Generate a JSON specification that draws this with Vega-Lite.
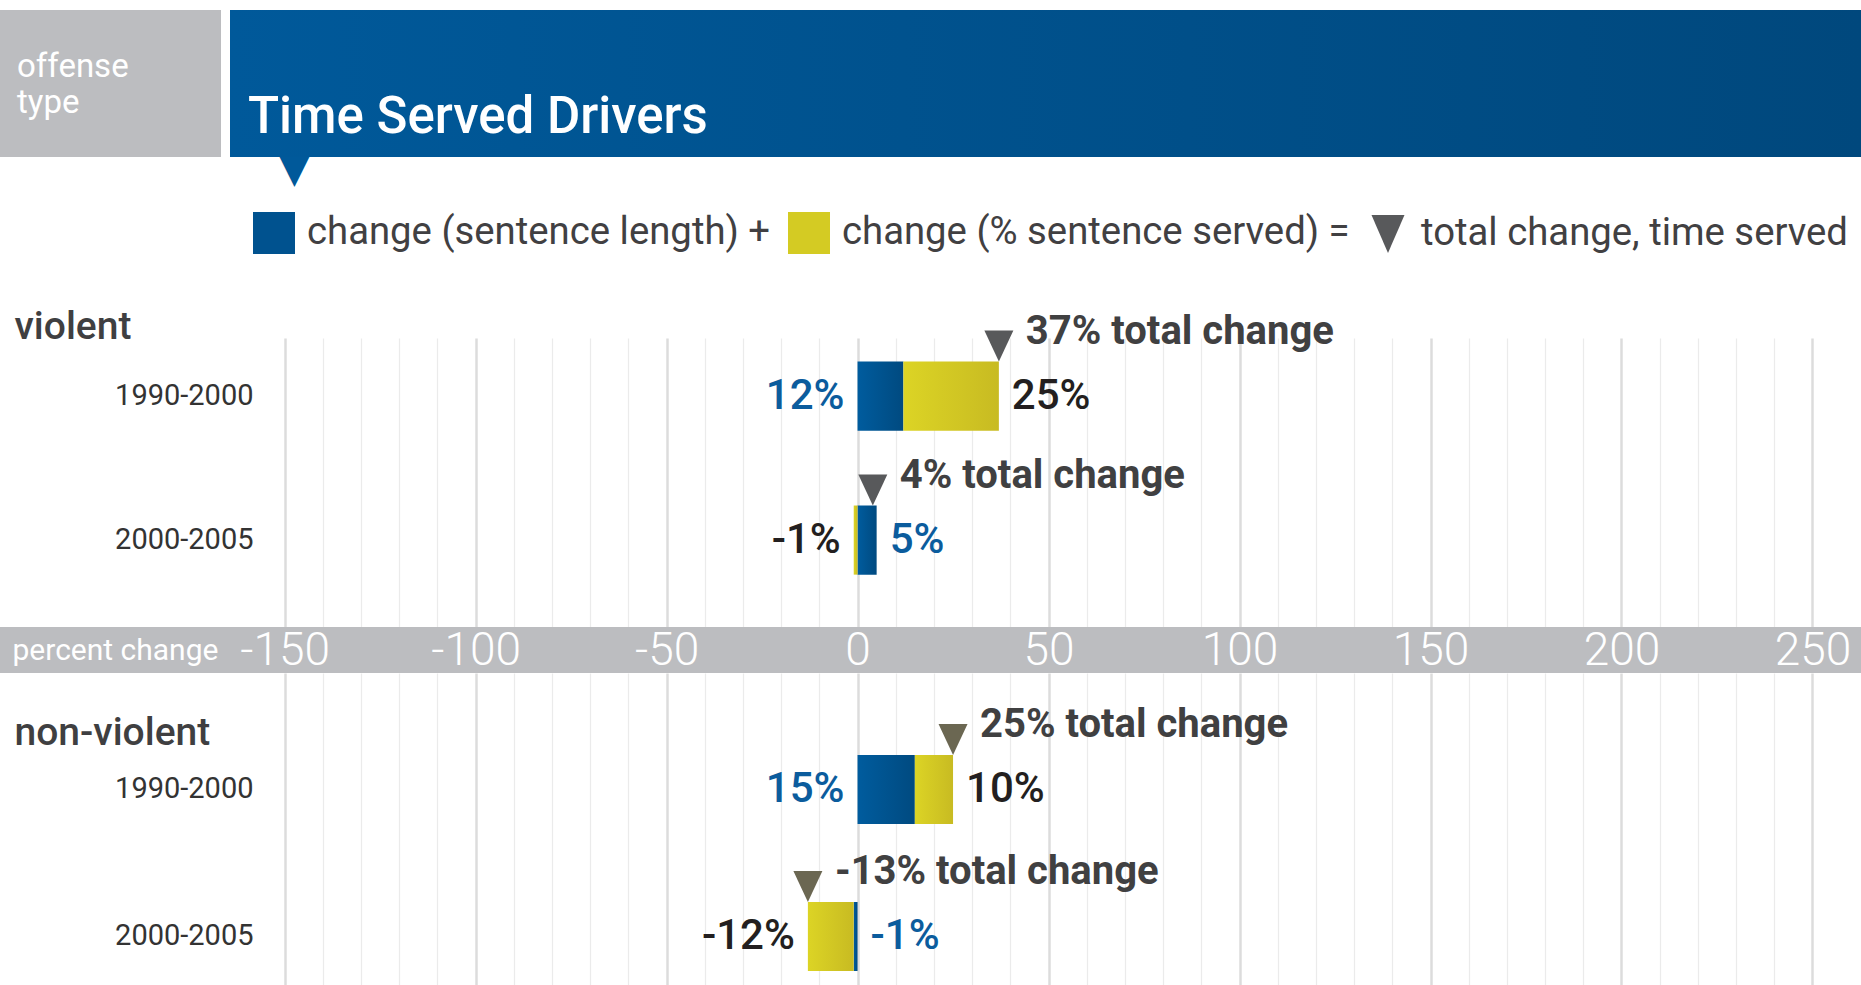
{
  "$schema": "https://vega.github.io/schema/vega-lite/v6.json",
  "padding": {"top": 10, "left": 0, "right": 0, "bottom": 0},
  "background": "#ffffff",
  "bounds": "full",
  "spacing": 22,
  "config": {
    "view": {"stroke": null},
    "font": "Roboto, Liberation Sans, sans-serif"
  },
  "datasets": {
    "changes": [
      {"offense": "violent", "period": "1990-2000", "comp": "length", "value": 12},
      {"offense": "violent", "period": "1990-2000", "comp": "served", "value": 25},
      {"offense": "violent", "period": "2000-2005", "comp": "length", "value": 5},
      {"offense": "violent", "period": "2000-2005", "comp": "served", "value": -1},
      {"offense": "non-violent", "period": "1990-2000", "comp": "length", "value": 15},
      {"offense": "non-violent", "period": "1990-2000", "comp": "served", "value": 10},
      {"offense": "non-violent", "period": "2000-2005", "comp": "length", "value": -1},
      {"offense": "non-violent", "period": "2000-2005", "comp": "served", "value": -12}
    ],
    "legend": [{"key": "length"}, {"key": "served"}, {"key": "total"}]
  },
  "resolve": {
    "scale": {"color": "independent", "shape": "independent"},
    "legend": {"color": "independent", "shape": "independent"}
  },
  "vconcat": [
    {
      "spacing": 9,
      "bounds": "flush",
      "title": {"text": "▼", "orient": "bottom", "anchor": "start", "frame": "group", "dx": 279, "offset": -7, "baseline": "top", "font": "DejaVu Sans", "fontSize": 40, "fontWeight": "normal", "color": "#00599a"},
      "hconcat": [
        {
          "width": 221, "height": 147,
          "view": {"fill": "#bcbdc0", "stroke": null},
          "data": {"values": []},
          "mark": "point",
          "title": {"text": ["offense", "type"], "orient": "bottom", "anchor": "start", "frame": "group", "dx": 17, "offset": -80, "baseline": "alphabetic", "fontSize": 33, "lineHeight": 36, "fontWeight": "normal", "color": "#ffffff"}
        },
        {
          "width": 1631, "height": 147,
          "view": {"fill": {"gradient": "linear", "x1": 0, "y1": 0, "x2": 1, "y2": 0, "stops": [{"offset": 0, "color": "#00599a"}, {"offset": 1, "color": "#00487d"}]}, "stroke": null},
          "data": {"values": []},
          "mark": "point",
          "title": {"text": "Time Served Drivers", "orient": "bottom", "anchor": "start", "frame": "group", "dx": 18, "offset": -24, "baseline": "alphabetic", "fontSize": 51, "fontWeight": 500, "color": "#ffffff"}
        }
      ]
    },
    {
      "spacing": 0,
      "bounds": "flush",
      "resolve": {
        "scale": {"color": "independent", "shape": "independent"},
        "legend": {"color": "independent", "shape": "independent"}
      },
      "vconcat": [
        {
          "width": 1861, "height": 289,
          "layer": [
            {
              "data": {"name": "changes"},
              "transform": [
                {"filter": "datum.offense == 'violent'"},
                {"stack": "value", "groupby": ["period"], "sort": [{"field": "comp", "order": "ascending"}], "as": ["s0", "s1"]},
                {"calculate": "min(datum.s0, datum.s1)", "as": "lo"},
                {"calculate": "max(datum.s0, datum.s1)", "as": "hi"},
                {"joinaggregate": [{"op": "min", "field": "lo", "as": "rmin"}, {"op": "max", "field": "hi", "as": "rmax"}, {"op": "sum", "field": "value", "as": "total"}], "groupby": ["period"]},
                {"calculate": "datum.value + '%'", "as": "lab"},
                {"calculate": "datum.total + '% total change'", "as": "tlab"}
              ],
              "encoding": {
                "y": {"field": "period", "type": "nominal",
                  "scale": {"paddingInner": 0.52, "paddingOuter": 0.2635, "align": 0.31},
                  "axis": {"orient": "left", "offset": -253, "labelAlign": "right", "labelPadding": 0, "ticks": false, "tickSize": 0, "domain": false, "grid": false, "labelFontSize": 29, "labelColor": "#333333", "labelBaseline": "middle", "labelLimit": 300,
                    "title": "violent", "titleAngle": 0, "titleAlign": "left", "titleBaseline": "alphabetic", "titleX": -239, "titleY": 0, "titleFontSize": 39, "titleFontWeight": 500, "titleColor": "#3f3f41"}}
              },
              "layer": [
                {
                  "transform": [{"filter": "datum.comp == 'length'"}],
                  "mark": {"type": "bar", "color": {"gradient": "linear", "x1": 0, "y1": 0, "x2": 1, "y2": 0, "stops": [{"offset": 0, "color": "#005c9e"}, {"offset": 1, "color": "#004a80"}]}},
                  "encoding": {
                    "x": {"field": "lo", "type": "quantitative", "title": null, "scale": {"domain": [-224.5, 262.7], "nice": false, "zero": false},
                      "axis": {"orient": "bottom", "values": [-150,-145,-140,-135,-130,-125,-120,-115,-110,-105,-100,-95,-90,-85,-80,-75,-70,-65,-60,-55,-50,-45,-40,-35,-30,-25,-20,-15,-10,-5,0,5,10,15,20,25,30,35,40,45,50,55,60,65,70,75,80,85,90,95,100,105,110,115,120,125,130,135,140,145,150,155,160,165,170,175,180,185,190,195,200,205,210,215,220,225,230,235,240,245,250],
                        "grid": true, "labels": false, "ticks": false, "domain": false, "title": null,
                        "gridColor": {"condition": {"test": "datum.value % 50 === 0", "value": "#dcdcdc"}, "value": "#ebebeb"},
                        "gridWidth": {"condition": {"test": "datum.value % 50 === 0", "value": 2.5}, "value": 1.2}}},
                    "x2": {"field": "hi"}
                  }
                },
                {
                  "transform": [{"filter": "datum.comp == 'served'"}],
                  "mark": {"type": "bar", "color": {"gradient": "linear", "x1": 0, "y1": 0, "x2": 1, "y2": 0, "stops": [{"offset": 0, "color": "#dcd425"}, {"offset": 1, "color": "#c8bb22"}]}},
                  "encoding": {
                    "x": {"field": "lo", "type": "quantitative", "title": null, "scale": {"domain": [-224.5, 262.7], "nice": false, "zero": false}},
                    "x2": {"field": "hi"}
                  }
                },
                {
                  "transform": [{"filter": "datum.comp == 'length'"}],
                  "mark": {"type": "point", "shape": "M-0.725,-3.275L0.725,-3.275L0,-1.725Z", "size": 1600, "filled": true, "opacity": 1, "strokeWidth": 0, "color": "#58595b"},
                  "encoding": {
                    "x": {"field": "total", "type": "quantitative", "title": null, "scale": {"domain": [-224.5, 262.7], "nice": false, "zero": false}}
                  }
                },
                {
                  "transform": [{"filter": "datum.comp == 'length'"}],
                  "mark": {"type": "text", "align": "left", "baseline": "middle", "dx": 27, "dy": -64, "fontSize": 40, "fontWeight": "bold", "color": "#404041"},
                  "encoding": {
                    "x": {"field": "total", "type": "quantitative", "title": null, "scale": {"domain": [-224.5, 262.7], "nice": false, "zero": false}},
                    "text": {"field": "tlab"}
                  }
                },
                {
                  "transform": [{"filter": "datum.lo == datum.rmin"}],
                  "mark": {"type": "text", "align": "right", "baseline": "middle", "dx": -13, "fontSize": 42, "fontWeight": 500},
                  "encoding": {
                    "x": {"field": "rmin", "type": "quantitative", "title": null, "scale": {"domain": [-224.5, 262.7], "nice": false, "zero": false}},
                    "text": {"field": "lab"},
                    "color": {"condition": {"test": "datum.comp == 'length'", "value": "#0b5c9d"}, "value": "#231f20"}
                  }
                },
                {
                  "transform": [{"filter": "datum.hi == datum.rmax"}],
                  "mark": {"type": "text", "align": "left", "baseline": "middle", "dx": 13, "fontSize": 42, "fontWeight": 500},
                  "encoding": {
                    "x": {"field": "rmax", "type": "quantitative", "title": null, "scale": {"domain": [-224.5, 262.7], "nice": false, "zero": false}},
                    "text": {"field": "lab"},
                    "color": {"condition": {"test": "datum.comp == 'length'", "value": "#0b5c9d"}, "value": "#231f20"}
                  }
                }
              ]
            },
            {
              "data": {"name": "legend"},
              "mark": {"type": "point", "filled": true, "opacity": 0},
              "encoding": {
                "color": {
                  "field": "key", "type": "nominal",
                  "scale": {"domain": ["length", "served", "total"], "range": ["#00528f", "#d4cb23", "#58595b"]},
                  "legend": {"orient": "none", "legendX": 253, "legendY": -126, "direction": "horizontal", "title": null, "symbolSize": 1764, "symbolStrokeWidth": 0, "symbolOpacity": 1, "labelFontSize": 38.3, "labelColor": "#414042", "labelOffset": 12, "columnPadding": 17, "labelLimit": 1000, "padding": 0,
                    "labelExpr": "datum.value == 'length' ? 'change (sentence length) +' : datum.value == 'served' ? 'change (% sentence served) =' : 'total change, time served'"}
                },
                "shape": {
                  "field": "key", "type": "nominal",
                  "scale": {"domain": ["length", "served", "total"], "range": ["square", "square", "M-0.786,-0.905L0.786,-0.905L0,0.905Z"]},
                  "legend": {"orient": "none", "legendX": 253, "legendY": -126, "direction": "horizontal", "title": null, "symbolSize": 1764, "symbolStrokeWidth": 0, "symbolOpacity": 1, "labelFontSize": 38.3, "labelColor": "#414042", "labelOffset": 12, "columnPadding": 17, "labelLimit": 1000, "padding": 0,
                    "labelExpr": "datum.value == 'length' ? 'change (sentence length) +' : datum.value == 'served' ? 'change (% sentence served) =' : 'total change, time served'"}
                }
              }
            }
          ]
        },
        {
          "width": 1861, "height": 46,
          "view": {"fill": "#bcbdc0", "stroke": null},
          "data": {"values": []},
          "mark": {"type": "point", "opacity": 0},
          "encoding": {
            "x": {"datum": 0, "type": "quantitative", "scale": {"domain": [-224.5, 262.7], "nice": false, "zero": false},
              "axis": {"orient": "bottom", "offset": -23, "values": [-150, -100, -50, 0, 50, 100, 150, 200, 250], "labelExpr": "datum.value + ''", "labelFontSize": 46, "labelFontWeight": 300, "labelColor": "#ffffff", "labelBaseline": "middle", "labelPadding": 0, "ticks": false, "tickSize": 0, "domain": false, "grid": false, "title": null, "labelFlush": false, "labelOverlap": false, "labelBound": false}},
            "y": {"datum": "percent change", "type": "nominal", "scale": {"domain": ["percent change"]},
              "axis": {"orient": "left", "offset": -12, "labelAlign": "left", "labelPadding": 0, "ticks": false, "tickSize": 0, "domain": false, "grid": false, "title": null, "labelFontSize": 30, "labelColor": "#ffffff", "labelBaseline": "middle", "labelLimit": 400}}
          }
        },
        {
          "width": 1861, "height": 312,
          "data": {"name": "changes"},
          "transform": [
            {"filter": "datum.offense == 'non-violent'"},
            {"stack": "value", "groupby": ["period"], "sort": [{"field": "comp", "order": "ascending"}], "as": ["s0", "s1"]},
            {"calculate": "min(datum.s0, datum.s1)", "as": "lo"},
            {"calculate": "max(datum.s0, datum.s1)", "as": "hi"},
            {"joinaggregate": [{"op": "min", "field": "lo", "as": "rmin"}, {"op": "max", "field": "hi", "as": "rmax"}, {"op": "sum", "field": "value", "as": "total"}], "groupby": ["period"]},
            {"calculate": "datum.value + '%'", "as": "lab"},
            {"calculate": "datum.total + '% total change'", "as": "tlab"}
          ],
          "encoding": {
            "y": {"field": "period", "type": "nominal",
              "scale": {"paddingInner": 0.5306, "paddingOuter": 0.3265, "align": 0.854},
              "axis": {"orient": "left", "offset": -253, "labelAlign": "right", "labelPadding": 0, "ticks": false, "tickSize": 0, "domain": false, "grid": false, "labelFontSize": 29, "labelColor": "#333333", "labelBaseline": "middle", "labelLimit": 300,
                "title": "non-violent", "titleAngle": 0, "titleAlign": "left", "titleBaseline": "alphabetic", "titleX": -239, "titleY": 71, "titleFontSize": 39, "titleFontWeight": 500, "titleColor": "#3f3f41"}}
          },
          "layer": [
            {
              "transform": [{"filter": "datum.comp == 'length'"}],
              "mark": {"type": "bar", "color": {"gradient": "linear", "x1": 0, "y1": 0, "x2": 1, "y2": 0, "stops": [{"offset": 0, "color": "#005c9e"}, {"offset": 1, "color": "#004a80"}]}},
              "encoding": {
                "x": {"field": "lo", "type": "quantitative", "title": null, "scale": {"domain": [-224.5, 262.7], "nice": false, "zero": false},
                  "axis": {"orient": "bottom", "values": [-150,-145,-140,-135,-130,-125,-120,-115,-110,-105,-100,-95,-90,-85,-80,-75,-70,-65,-60,-55,-50,-45,-40,-35,-30,-25,-20,-15,-10,-5,0,5,10,15,20,25,30,35,40,45,50,55,60,65,70,75,80,85,90,95,100,105,110,115,120,125,130,135,140,145,150,155,160,165,170,175,180,185,190,195,200,205,210,215,220,225,230,235,240,245,250],
                    "grid": true, "labels": false, "ticks": false, "domain": false, "title": null,
                    "gridColor": {"condition": {"test": "datum.value % 50 === 0", "value": "#dcdcdc"}, "value": "#ebebeb"},
                    "gridWidth": {"condition": {"test": "datum.value % 50 === 0", "value": 2.5}, "value": 1.2}}},
                "x2": {"field": "hi"}
              }
            },
            {
              "transform": [{"filter": "datum.comp == 'served'"}],
              "mark": {"type": "bar", "color": {"gradient": "linear", "x1": 0, "y1": 0, "x2": 1, "y2": 0, "stops": [{"offset": 0, "color": "#dcd425"}, {"offset": 1, "color": "#c8bb22"}]}},
              "encoding": {
                "x": {"field": "lo", "type": "quantitative", "title": null, "scale": {"domain": [-224.5, 262.7], "nice": false, "zero": false}},
                "x2": {"field": "hi"}
              }
            },
            {
              "transform": [{"filter": "datum.comp == 'length'"}],
              "mark": {"type": "point", "shape": "M-0.725,-3.275L0.725,-3.275L0,-1.725Z", "size": 1600, "filled": true, "opacity": 1, "strokeWidth": 0, "color": "#6b6752"},
              "encoding": {
                "x": {"field": "total", "type": "quantitative", "title": null, "scale": {"domain": [-224.5, 262.7], "nice": false, "zero": false}}
              }
            },
            {
              "transform": [{"filter": "datum.comp == 'length'"}],
              "mark": {"type": "text", "align": "left", "baseline": "middle", "dx": 27, "dy": -64, "fontSize": 40, "fontWeight": "bold", "color": "#404041"},
              "encoding": {
                "x": {"field": "total", "type": "quantitative", "title": null, "scale": {"domain": [-224.5, 262.7], "nice": false, "zero": false}},
                "text": {"field": "tlab"}
              }
            },
            {
              "transform": [{"filter": "datum.lo == datum.rmin"}],
              "mark": {"type": "text", "align": "right", "baseline": "middle", "dx": -13, "fontSize": 42, "fontWeight": 500},
              "encoding": {
                "x": {"field": "rmin", "type": "quantitative", "title": null, "scale": {"domain": [-224.5, 262.7], "nice": false, "zero": false}},
                "text": {"field": "lab"},
                "color": {"condition": {"test": "datum.comp == 'length'", "value": "#0b5c9d"}, "value": "#231f20"}
              }
            },
            {
              "transform": [{"filter": "datum.hi == datum.rmax"}],
              "mark": {"type": "text", "align": "left", "baseline": "middle", "dx": 13, "fontSize": 42, "fontWeight": 500},
              "encoding": {
                "x": {"field": "rmax", "type": "quantitative", "title": null, "scale": {"domain": [-224.5, 262.7], "nice": false, "zero": false}},
                "text": {"field": "lab"},
                "color": {"condition": {"test": "datum.comp == 'length'", "value": "#0b5c9d"}, "value": "#231f20"}
              }
            }
          ]
        }
      ]
    }
  ]
}
